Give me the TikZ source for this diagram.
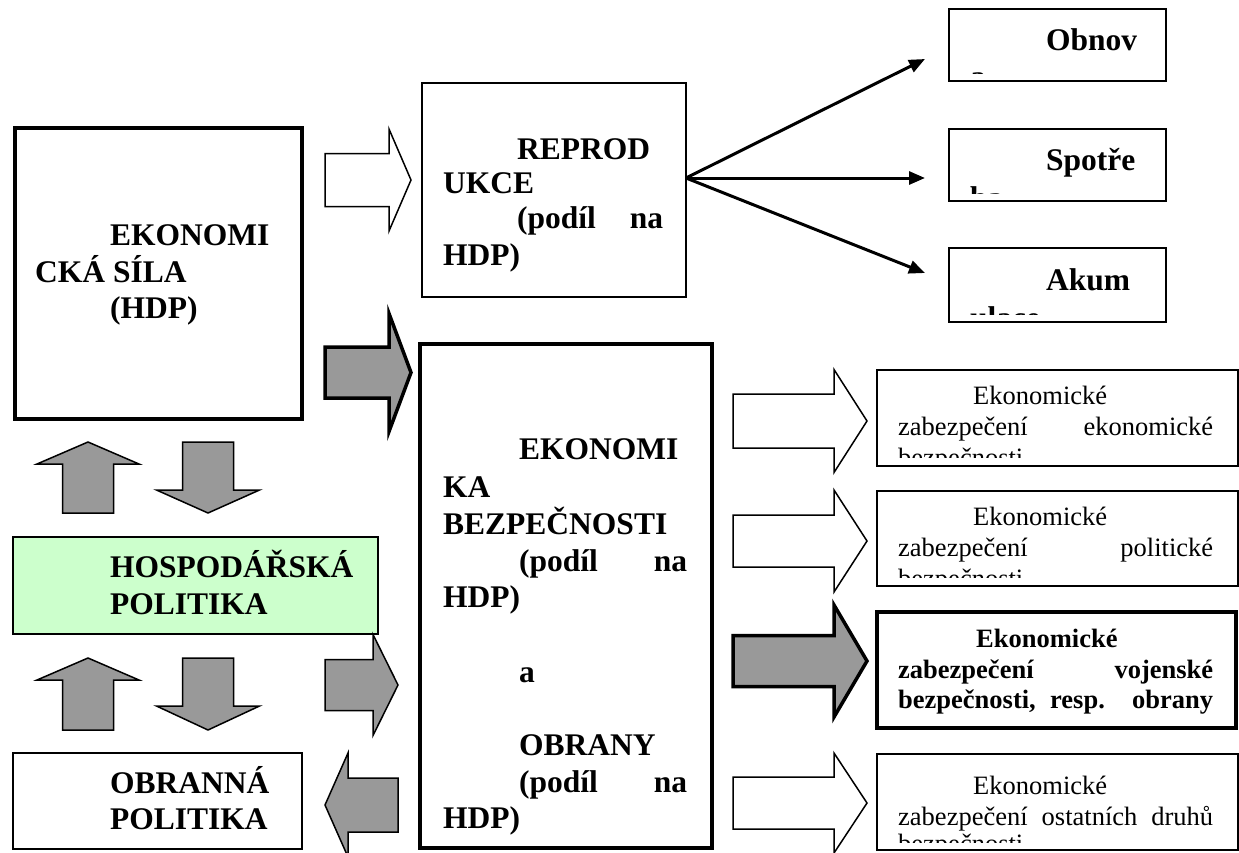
\documentclass[tikz,border=0pt]{standalone}
\usepackage{fontspec}
\setmainfont{Liberation Serif}
\usetikzlibrary{arrows.meta}
\definecolor{arrgray}{HTML}{999999}
\definecolor{hospgreen}{HTML}{CCFFCC}
\newcommand{\blkhor}[7]{% style, x0, xh, xt, yc, s, h
  \path[#1] (#2,#5-#6) -- (#3,#5-#6) -- (#3,#5-#7) -- (#4,#5) -- (#3,#5+#7) -- (#3,#5+#6) -- (#2,#5+#6) -- cycle;}
\newcommand{\blkver}[7]{% style, xc, y0, yh, yt, s, h
  \path[#1] (#2-#6,#3) -- (#2-#6,#4) -- (#2-#7,#4) -- (#2,#5) -- (#2+#7,#4) -- (#2+#6,#4) -- (#2+#6,#3) -- cycle;}
\tikzset{
  thinbox/.style={draw, line width=1.5pt, inner sep=0pt, outer sep=0pt},
  thickbox/.style={draw, line width=4pt, inner sep=0pt, outer sep=0pt},
  bigt/.style={font=\fontsize{31.5}{37}\selectfont\bfseries, anchor=base west, inner sep=0pt},
  smt/.style={font=\fontsize{26.5}{31}\selectfont, anchor=base west, inner sep=0pt},
  smbt/.style={font=\fontsize{26.5}{31}\selectfont\bfseries, anchor=base west, inner sep=0pt},
  whitearr/.style={draw, fill=white, line width=1.5pt},
  grayarr/.style={draw, fill=arrgray, line width=1.5pt},
  grayarrthick/.style={draw, fill=arrgray, line width=3.5pt},
  fanline/.style={line width=3pt, -{Triangle[length=16pt,width=13pt]}}
}
\begin{document}
\begin{tikzpicture}[x=1pt, y=-1pt]
\useasboundingbox[fill=white] (0,0) rectangle (1239,852);

% ---- boxes ----
\node[thickbox, minimum width=287pt, minimum height=291pt] (sila) at (158.5,273.5) {};
\node[thinbox, fill=hospgreen, minimum width=365pt, minimum height=97pt] (hosp) at (195.5,585.5) {};
\node[thinbox, minimum width=289pt, minimum height=96pt] (obr) at (157.5,801) {};
\node[thinbox, minimum width=264pt, minimum height=214pt] (repro) at (554,190) {};
\node[thickbox, minimum width=292pt, minimum height=504pt] (ekb) at (566,596) {};
\node[thinbox, minimum width=217pt, minimum height=72pt] (obnov) at (1057.5,45) {};
\node[thinbox, minimum width=217pt, minimum height=72pt] (spotr) at (1057.5,165) {};
\node[thinbox, minimum width=217pt, minimum height=74pt] (akum) at (1057.5,285) {};
\node[thinbox, minimum width=361pt, minimum height=96pt] (zA) at (1057.5,418) {};
\node[thinbox, minimum width=361pt, minimum height=95pt] (zB) at (1057.5,538.5) {};
\node[thickbox, minimum width=359pt, minimum height=116pt] (zC) at (1056.5,670) {};
\node[thinbox, minimum width=361pt, minimum height=96pt] (zD) at (1057.5,802) {};

% ---- texts: left column ----
\node[bigt] (t1) at (110,245) {EKONOMI};
\node[bigt] (t2) at (35,282) {CKÁ SÍLA};
\node[bigt] (t3) at (110,318) {(HDP)};
\node[bigt] (t4) at (110,577) {HOSPODÁŘSKÁ};
\node[bigt] (t5) at (110,614) {POLITIKA};
\node[bigt] (t6) at (110,793) {OBRANNÁ};
\node[bigt] (t7) at (110,829) {POLITIKA};

% ---- texts: reprodukce ----
\node[bigt] (t8) at (517,159) {REPROD};
\node[bigt] (t9) at (443,193) {UKCE};
\node[bigt] (t10) at (517,228) {\makebox[146pt][s]{(podíl na}};
\node[bigt] (t11) at (443,265) {HDP)};

% ---- texts: ekonomika bezpecnosti ----
\node[bigt] (t12) at (519,459) {EKONOMI};
\node[bigt] (t13) at (443,497) {KA};
\node[bigt] (t14) at (443,534) {BEZPEČNOSTI};
\node[bigt] (t15) at (519,571) {\makebox[168pt][s]{(podíl na}};
\node[bigt] (t16) at (443,607) {HDP)};
\node[bigt] (t17) at (519,682) {a};
\node[bigt] (t18) at (519,755) {OBRANY};
\node[bigt] (t19) at (519,792) {\makebox[168pt][s]{(podíl na}};
\node[bigt] (t20) at (443,828) {HDP)};

% ---- texts: top right (clipped) ----
\begin{scope}
  \clip (949,9) rectangle (1166,73);
  \node[bigt] (t21) at (1046,50) {Obnov};
  \node[bigt] (t22) at (970,87) {a};
\end{scope}
\begin{scope}
  \clip (949,129) rectangle (1166,193);
  \node[bigt] (t23) at (1046,170) {Spotře};
  \node[bigt] (t24) at (970,208) {ba};
\end{scope}
\begin{scope}
  \clip (949,248) rectangle (1166,314);
  \node[bigt] (t25) at (1046,290) {Akum};
  \node[bigt] (t26) at (970,328) {ulace};
\end{scope}

% ---- texts: right column ----
\begin{scope}
  \clip (877,370) rectangle (1238,457);
  \node[smt] (t27) at (973,404) {Ekonomické};
  \node[smt] (t28) at (898,435) {\makebox[315pt][s]{zabezpečení ekonomické}};
  \node[smt] (t29) at (898,466) {bezpečnosti};
\end{scope}
\begin{scope}
  \clip (877,491) rectangle (1238,577);
  \node[smt] (t30) at (973,525) {Ekonomické};
  \node[smt] (t31) at (898,556) {\makebox[315pt][s]{zabezpečení politické}};
  \node[smt] (t32) at (898,587) {bezpečnosti};
\end{scope}
\node[smbt] (t33) at (976,647) {Ekonomické};
\node[smbt] (t34) at (898,678) {\makebox[315pt][s]{zabezpečení vojenské}};
\node[smbt] (t35) at (898,708) {\makebox[315pt][s]{bezpečnosti, resp. obrany}};
\begin{scope}
  \clip (877,754) rectangle (1238,842);
  \node[smt] (t36) at (973,794) {Ekonomické};
  \node[smt] (t37) at (898,825) {\makebox[315pt][s]{zabezpečení ostatních druhů}};
  \node[smt] (t38) at (898,852) {bezpečnosti};
\end{scope}

% ---- fan connectors ----
\coordinate (fan) at (686,178);
\coordinate (e1) at (925,59);
\coordinate (e2) at (925,178);
\coordinate (e3) at (925,273);
\draw[fanline] (fan) -- (e1);
\draw[fanline] (fan) -- (e2);
\draw[fanline] (fan) -- (e3);

% ---- block arrows ----
\blkhor{whitearr}{325}{389}{411}{180}{26.5}{51}
\blkhor{grayarrthick}{325}{389}{411}{372.5}{25.5}{59}
\blkhor{grayarr}{325}{373}{398}{685}{25.5}{50.5}
\blkhor{grayarr}{398}{348}{325}{805}{27}{52}
\blkhor{whitearr}{733}{834}{867}{421}{27}{51.5}
\blkhor{whitearr}{733}{834}{867}{541}{26}{51}
\blkhor{grayarrthick}{733}{834}{867}{661}{25.5}{56}
\blkhor{whitearr}{733}{834}{867}{803}{26}{50}
\blkver{grayarr}{88}{513}{464}{442}{25.5}{51}
\blkver{grayarr}{208}{442}{490}{513}{25.5}{51.5}
\blkver{grayarr}{88}{730}{680}{658}{25.5}{51}
\blkver{grayarr}{208}{658}{706}{730}{25.5}{51.5}
\end{tikzpicture}
\end{document}
